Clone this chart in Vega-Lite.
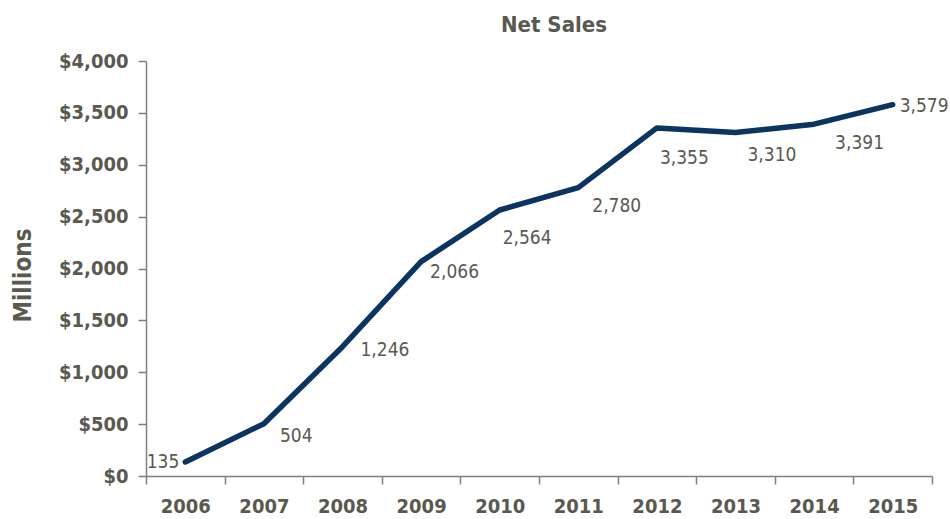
{
  "$schema": "https://vega.github.io/schema/vega-lite/v6.json",
  "autosize": "none",
  "width": 786,
  "height": 415,
  "padding": {"left": 146, "top": 61, "right": 18, "bottom": 43},
  "background": "white",
  "config": {
    "font": "DejaVu Sans Condensed, sans-serif",
    "view": {"stroke": null}
  },
  "title": {
    "text": "Net Sales",
    "fontSize": 22,
    "fontWeight": "bold",
    "color": "#595950",
    "anchor": "middle",
    "dx": 15,
    "offset": 14,
    "font": "DejaVu Sans Condensed, sans-serif"
  },
  "data": {
    "values": [
      {"year": "2006", "sales": 135},
      {"year": "2007", "sales": 504},
      {"year": "2008", "sales": 1246},
      {"year": "2009", "sales": 2066},
      {"year": "2010", "sales": 2564},
      {"year": "2011", "sales": 2780},
      {"year": "2012", "sales": 3355},
      {"year": "2013", "sales": 3310},
      {"year": "2014", "sales": 3391},
      {"year": "2015", "sales": 3579}
    ]
  },
  "encoding": {
    "x": {
      "field": "year", "type": "ordinal",
      "scale": {"paddingInner": 0, "paddingOuter": 0},
      "axis": {
        "title": null, "labelAngle": 0, "labelFontSize": 20, "labelFontWeight": "bold",
        "labelColor": "#595950", "labelPadding": 12, "domainColor": "#7f7f7f", "domainWidth": 1.5,
        "tickColor": "#7f7f7f", "tickWidth": 1.5, "tickSize": 8, "tickBand": "extent",
        "grid": false
      }
    },
    "y": {
      "field": "sales", "type": "quantitative",
      "scale": {"domain": [0, 4000], "nice": false},
      "axis": {
        "title": "Millions", "titleFontSize": 24, "titleFontWeight": "bold", "titleColor": "#595950",
        "titlePadding": 23, "titleY": 214,
        "values": [0, 500, 1000, 1500, 2000, 2500, 3000, 3500, 4000],
        "format": "$,.0f", "labelFontSize": 20, "labelFontWeight": "bold", "labelColor": "#595950",
        "labelPadding": 10, "domainColor": "#7f7f7f", "domainWidth": 1.5,
        "tickColor": "#7f7f7f", "tickWidth": 1.5, "tickSize": 8, "grid": false
      }
    }
  },
  "layer": [
    {
      "mark": {"type": "line", "color": "#0c3461", "strokeWidth": 5.5, "strokeCap": "round", "strokeJoin": "round"}
    },
    {
      "transform": [{"filter": "datum.year == '2006'"}],
      "mark": {"type": "text", "align": "right", "baseline": "middle", "dx": -6, "dy": 0, "fontSize": 19, "color": "#595950"},
      "encoding": {"text": {"field": "sales", "type": "quantitative", "format": ",.0f"}}
    },
    {
      "transform": [{"filter": "datum.year == '2007'"}],
      "mark": {"type": "text", "align": "left", "baseline": "middle", "dx": 16, "dy": 12, "fontSize": 19, "color": "#595950"},
      "encoding": {"text": {"field": "sales", "type": "quantitative", "format": ",.0f"}}
    },
    {
      "transform": [{"filter": "datum.year == '2008'"}],
      "mark": {"type": "text", "align": "left", "baseline": "middle", "dx": 18, "dy": 3, "fontSize": 19, "color": "#595950"},
      "encoding": {"text": {"field": "sales", "type": "quantitative", "format": ",.0f"}}
    },
    {
      "transform": [{"filter": "datum.year == '2009'"}],
      "mark": {"type": "text", "align": "left", "baseline": "middle", "dx": 9, "dy": 10, "fontSize": 19, "color": "#595950"},
      "encoding": {"text": {"field": "sales", "type": "quantitative", "format": ",.0f"}}
    },
    {
      "transform": [{"filter": "datum.year == '2010'"}],
      "mark": {"type": "text", "align": "left", "baseline": "middle", "dx": 3, "dy": 28, "fontSize": 19, "color": "#595950"},
      "encoding": {"text": {"field": "sales", "type": "quantitative", "format": ",.0f"}}
    },
    {
      "transform": [{"filter": "datum.year == '2011'"}],
      "mark": {"type": "text", "align": "left", "baseline": "middle", "dx": 14, "dy": 18, "fontSize": 19, "color": "#595950"},
      "encoding": {"text": {"field": "sales", "type": "quantitative", "format": ",.0f"}}
    },
    {
      "transform": [{"filter": "datum.year == '2012'"}],
      "mark": {"type": "text", "align": "left", "baseline": "middle", "dx": 3, "dy": 30, "fontSize": 19, "color": "#595950"},
      "encoding": {"text": {"field": "sales", "type": "quantitative", "format": ",.0f"}}
    },
    {
      "transform": [{"filter": "datum.year == '2013'"}],
      "mark": {"type": "text", "align": "left", "baseline": "middle", "dx": 12, "dy": 22, "fontSize": 19, "color": "#595950"},
      "encoding": {"text": {"field": "sales", "type": "quantitative", "format": ",.0f"}}
    },
    {
      "transform": [{"filter": "datum.year == '2014'"}],
      "mark": {"type": "text", "align": "left", "baseline": "middle", "dx": 21, "dy": 19, "fontSize": 19, "color": "#595950"},
      "encoding": {"text": {"field": "sales", "type": "quantitative", "format": ",.0f"}}
    },
    {
      "transform": [{"filter": "datum.year == '2015'"}],
      "mark": {"type": "text", "align": "left", "baseline": "middle", "dx": 7, "dy": 1, "fontSize": 19, "color": "#595950"},
      "encoding": {"text": {"field": "sales", "type": "quantitative", "format": ",.0f"}}
    }
  ]
}
